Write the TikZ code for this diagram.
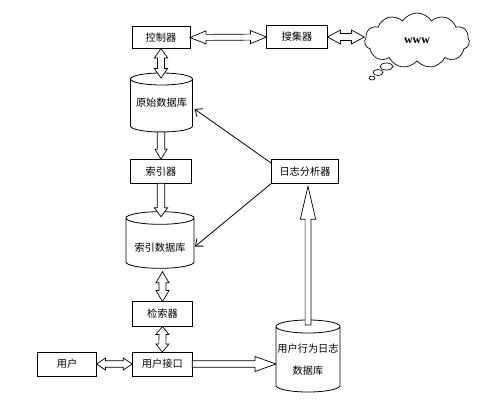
\documentclass[tikz,border=0pt]{standalone}
\usepackage{fontspec}
\setmainfont{Liberation Serif}
\newfontfamily\cjk{Noto Sans CJK SC}
\newcommand{\zhfont}{\cjk\fontsize{10.2}{12}\selectfont}
\usetikzlibrary{calc,shapes.symbols,arrows.meta}
% single block arrow #1 -> #2 ; shaft half width #3, head half width #4, head length #5
\newcommand{\blkS}[5]{%
  \path ($(#2)!#5!(#1)$) coordinate (hb);
  \draw[blk] ($(#1)!#3!90:(#2)$) -- ($(hb)!#3!90:(#2)$) -- ($(hb)!#4!90:(#2)$) -- (#2)
     -- ($(hb)!#4!-90:(#2)$) -- ($(hb)!#3!-90:(#2)$) -- ($(#1)!#3!-90:(#2)$) -- cycle;}
% double block arrow #1 <-> #2
\newcommand{\blkD}[5]{%
  \path ($(#1)!#5!(#2)$) coordinate (ha) ($(#2)!#5!(#1)$) coordinate (hb);
  \draw[blk] (#1) -- ($(ha)!#4!90:(#2)$) -- ($(ha)!#3!90:(#2)$) -- ($(hb)!#3!90:(#2)$)
     -- ($(hb)!#4!90:(#2)$) -- (#2) -- ($(hb)!#4!-90:(#2)$) -- ($(hb)!#3!-90:(#2)$)
     -- ($(ha)!#3!-90:(#2)$) -- ($(ha)!#4!-90:(#2)$) -- cycle;}
% cylinder outline around node #1, ellipse half height #2
\newcommand{\cylout}[2]{%
  \draw[cylline] let \p1=(#1.north west), \p2=(#1.south east), \p3=(#1.north), \n1={(\x2-\x1)/2} in
    (\x1,\y1-#2) -- (\x1,\y2+#2) arc[start angle=180,end angle=360,x radius=\n1,y radius=#2]
    -- (\x2,\y1-#2)
    (\x3,\y1-#2) ellipse[x radius=\n1,y radius=#2];}
\begin{document}
\begin{tikzpicture}[x=1pt,y=-1pt,
  box/.style={draw, line width=0.8pt, inner sep=0pt, outer sep=0pt, font=\zhfont},
  cylb/.style={inner sep=0pt, outer sep=0pt, font=\zhfont},
  blk/.style={draw=black, fill=white, line width=0.7pt, line join=miter},
  link/.style={line width=0.8pt, -{Straight Barb[length=6pt,width=10pt]}},
  cylline/.style={line width=0.8pt},
  puff/.style={draw, line width=0.7pt}]
\useasboundingbox (0,0) rectangle (484,404);

% boxes
\node[box, minimum width=58pt, minimum height=22pt] (ctrl) at (161,37.5) {控制器};
\node[box, minimum width=61pt, minimum height=23pt] (coll) at (297,37) {搜集器};
\node[box, minimum width=61pt, minimum height=24pt] (indexer) at (161,171.3) {索引器};
\node[box, minimum width=67pt, minimum height=24pt] (logan) at (305,171.3) {日志分析器};
\node[box, minimum width=60pt, minimum height=25pt] (retr) at (162.5,314) {检索器};
\node[box, minimum width=60pt, minimum height=24pt] (ui) at (162.3,364) {用户接口};
\node[box, minimum width=59pt, minimum height=24pt] (user) at (67,364) {用户};

% cylinders
\node[cylb, minimum width=62pt, minimum height=59pt] (rawdb) at (161.5,102.5) {原始数据库};
\node[cylb, minimum width=68pt, minimum height=56.6pt] (indexdb) at (160,240)
  {\raisebox{-11.8pt}[0pt][0pt]{索引数据库}};
\node[cylb, minimum width=64pt, minimum height=72pt] (ubdb) at (308,356)
  {\raisebox{3.2pt}[0pt][0pt]{\begin{tabular}[t]{@{}c@{}}用户行为日志\\[9.7pt]数据库\end{tabular}}};
\cylout{rawdb}{6pt}
\cylout{indexdb}{6.3pt}
\cylout{ubdb}{6.5pt}

% cloud
\node[cloud, draw, line width=0.7pt, cloud puffs=11, cloud puff arc=115, aspect=1.9,
      minimum width=105pt, minimum height=55pt, inner sep=0pt,
      font=\fontsize{12}{14}\selectfont\bfseries] (www) at (417,40.5) {www};
\draw[puff] (386.5,66.5) ellipse[x radius=6.5pt, y radius=3.5pt];
\draw[puff] (378,72.5) ellipse[x radius=5pt, y radius=3pt];
\draw[puff] (372,78) ellipse[x radius=3pt, y radius=2pt];

% block arrows
\blkD{ctrl.east}{coll.west}{3pt}{6.5pt}{16pt}
\coordinate (cw) at (coll.east -| www.west);
\blkD{coll.east}{cw}{3.5pt}{7pt}{13pt}
\path (ctrl.south |- rawdb.north) ++(0,5) coordinate (a1);
\blkD{ctrl.south}{a1}{3.5pt}{6.7pt}{9.5pt}
\coordinate (a2) at (indexer.north |- rawdb.south);
\blkS{a2}{indexer.north}{3.7pt}{6pt}{10pt}
\path (indexer.south |- indexdb.north) ++(0,5) coordinate (a3);
\blkS{indexer.south}{a3}{3.7pt}{6.7pt}{9pt}
\path (retr.north |- indexdb.south) ++(0,3.4) coordinate (a4);
\blkD{a4}{retr.north}{3.5pt}{6.5pt}{11pt}
\blkD{retr.south}{ui.north}{3.5pt}{6.5pt}{8pt}
\blkD{user.east}{ui.west}{3.3pt}{6pt}{9pt}
\coordinate (a5) at (ubdb.west |- ui.east);
\blkS{ui.east}{a5}{3.3pt}{7.5pt}{21pt}
\path (ubdb.north) ++(0,5) coordinate (a6);
\path (ubdb.north |- logan.south) ++(0,3) coordinate (a7);
\blkS{a6}{a7}{2.9pt}{7.7pt}{33pt}

% thin arrows
\draw[link] ($(logan.west)+(0,-8)$) -- ($(rawdb.east)+(2,6.5)$);
\draw[link] (logan.south west) -- ($(indexdb.east)+(1,6.5)$);
\end{tikzpicture}
\end{document}
